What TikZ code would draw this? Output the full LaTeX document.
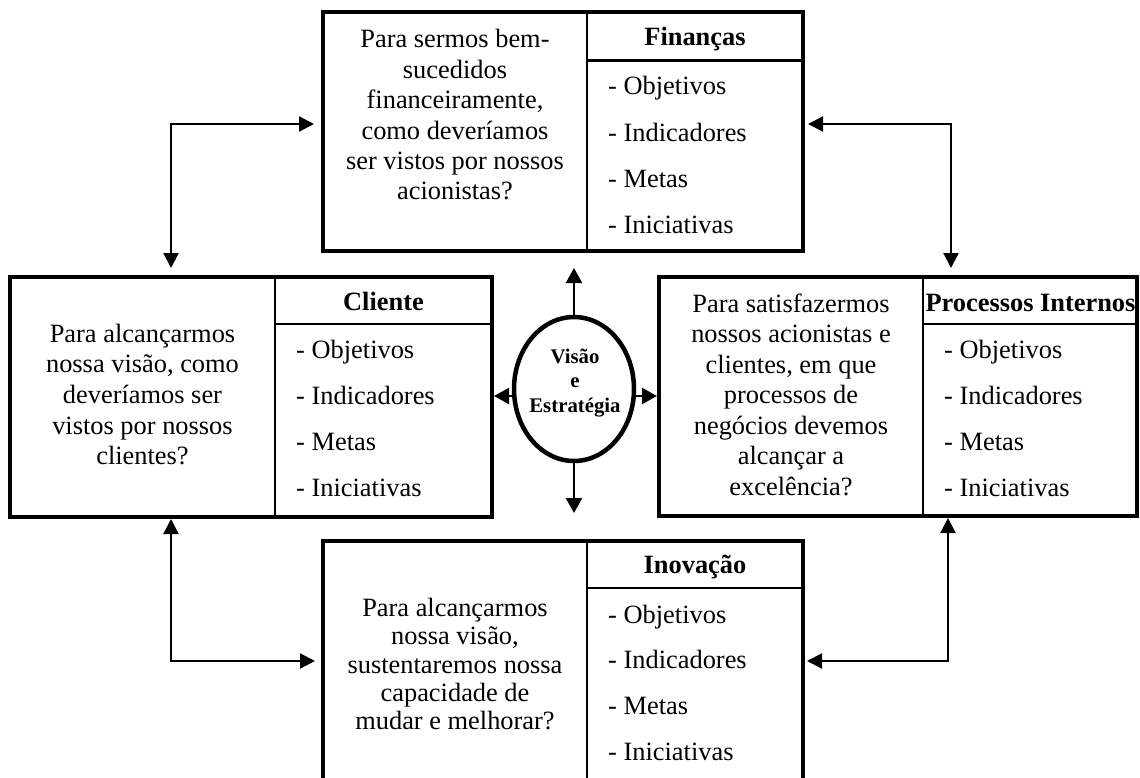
\documentclass[tikz,border=0pt]{standalone}
\usepackage{fontspec}
\setmainfont{Liberation Serif}
\usetikzlibrary{arrows.meta,shapes.geometric}
\newcommand{\bodyfont}[1]{\fontsize{26.4pt}{#1}\selectfont}
\begin{document}
\begin{tikzpicture}[x=1pt,y=-1pt,
  box/.style={draw, line width=4pt, rectangle, inner sep=0pt},
  sepline/.style={line width=2.4pt},
  ell/.style={draw, ellipse, line width=4.5pt, inner sep=0pt},
  conn/.style={line width=2.2pt, {Triangle[length=15pt,width=15pt]}-{Triangle[length=15pt,width=15pt]}},
  arr/.style={line width=2.2pt, -{Triangle[length=15pt,width=16pt]}},
  txt/.style={inner sep=0pt, anchor=base},
  lst/.style={inner sep=0pt, anchor=base west},
  hdr/.style={inner sep=0pt, anchor=base, font=\bfseries\fontsize{26.4pt}{30pt}\selectfont}]
\useasboundingbox (0,0) rectangle (1140,778);
\fill[white] (0,0) rectangle (1140,778);
\clip (0,0) rectangle (1140,778);

% boxes
\node[box, minimum width=480pt, minimum height=239pt] (fin) at (563,131.5) {};
\node[box, minimum width=482pt, minimum height=240pt] (cli) at (251,397) {};
\node[box, minimum width=478pt, minimum height=239pt] (pro) at (898,396.5) {};
\node[box, minimum width=480pt, minimum height=240pt] (ino) at (563,661) {};

% inner lines
\draw[sepline] (587,12) -- (587,251);
\draw[sepline] (587,60.5) -- (803,60.5);
\draw[sepline] (275,277) -- (275,517);
\draw[sepline] (275,324) -- (492,324);
\draw[sepline] (923,277) -- (923,516);
\draw[sepline] (923,324) -- (1137,324);
\draw[sepline] (587,541) -- (587,781);
\draw[sepline] (587,588) -- (803,588);

% centre ellipse
\node[ell, minimum width=120pt, minimum height=144pt] (vis) at (574,389) {};
\node[txt] (vt) at (575,363) {\fontsize{20.8pt}{24.5pt}\selectfont\bfseries\begin{tabular}[t]{@{}c@{}}Visão\\ e\\ Estratégia\end{tabular}};

% texts: Finanças
\node[txt] (fq) at (455,48) {\bodyfont{30.4pt}\begin{tabular}[t]{@{}c@{}}Para sermos bem-\\ sucedidos\\ financeiramente,\\ como deveríamos\\ ser vistos por nossos\\ acionistas?\end{tabular}};
\node[hdr] (fh) at (695,46) {Finanças};
\node[lst] (fl) at (608,95) {\bodyfont{30.4pt}\begin{tabular}[t]{@{}l@{}}- Objetivos\\[15.9pt] - Indicadores\\[15.9pt] - Metas\\[15.9pt] - Iniciativas\end{tabular}};

% Cliente
\node[txt] (cq) at (142.5,342) {\bodyfont{30.7pt}\begin{tabular}[t]{@{}c@{}}Para alcançarmos\\ nossa visão, como\\ deveríamos ser\\ vistos por nossos\\ clientes?\end{tabular}};
\node[hdr] (ch) at (383.5,310) {Cliente};
\node[lst] (cl) at (296,358) {\bodyfont{30.4pt}\begin{tabular}[t]{@{}l@{}}- Objetivos\\[15.9pt] - Indicadores\\[15.9pt] - Metas\\[15.9pt] - Iniciativas\end{tabular}};

% Processos Internos
\node[txt] (pq) at (791,312) {\bodyfont{30.5pt}\begin{tabular}[t]{@{}c@{}}Para satisfazermos\\ nossos acionistas e\\ clientes, em que\\ processos de\\ negócios devemos\\ alcançar a\\ excelência?\end{tabular}};
\node[hdr] (ph) at (1030.5,311) {Processos Internos};
\node[lst] (pl) at (944,358) {\bodyfont{30.4pt}\begin{tabular}[t]{@{}l@{}}- Objetivos\\[15.9pt] - Indicadores\\[15.9pt] - Metas\\[15.9pt] - Iniciativas\end{tabular}};

% Inovação
\node[txt] (iq) at (455,616.5) {\bodyfont{28.3pt}\begin{tabular}[t]{@{}c@{}}Para alcançarmos\\ nossa visão,\\ sustentaremos nossa\\ capacidade de\\ mudar e melhorar?\end{tabular}};
\node[hdr] (ih) at (695,573) {Inovação};
\node[lst] (il) at (608,623) {\bodyfont{30.4pt}\begin{tabular}[t]{@{}l@{}}- Objetivos\\[15.3pt] - Indicadores\\[15.3pt] - Metas\\[15.3pt] - Iniciativas\end{tabular}};

% connector corners
\coordinate (tl) at (171,124);
\coordinate (tr) at (951,124);
\coordinate (bl) at (171,661);
\coordinate (br) at (948,661);
\coordinate (mid) at (0,396);
\coordinate (upend) at (574,268);
\coordinate (dnend) at (574,513);

\draw[conn, shorten <=7pt, shorten >=7pt] (tl |- cli.north) -- (tl) -- (tl -| fin.west);
\draw[conn, shorten <=3pt, shorten >=7pt] (tr -| fin.east) -- (tr) -- (tr |- pro.north);
\draw[conn, shorten >=6pt] (bl |- cli.south) -- (bl) -- (bl -| ino.west);
\draw[conn, shorten >=2pt] (br |- pro.south) -- (br) -- (br -| ino.east);

\draw[arr] (vis.north) -- (upend);
\draw[arr] (vis.south) -- (dnend);
\draw[arr] (vis.west |- mid) -- (cli.east |- mid);
\draw[arr] (vis.east |- mid) -- (pro.west |- mid);
\end{tikzpicture}
\end{document}
